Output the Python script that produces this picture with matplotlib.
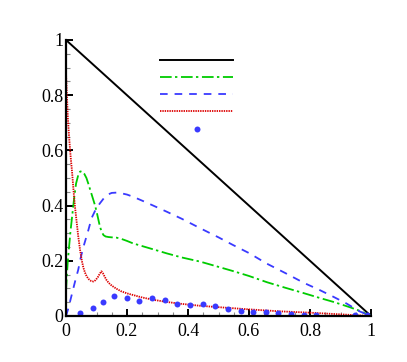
import matplotlib
matplotlib.use("Agg")
import matplotlib.pyplot as plt
from matplotlib.ticker import MultipleLocator

plt.rcParams['font.family'] = ['Liberation Serif', 'DejaVu Serif']
plt.rcParams['lines.scale_dashes'] = False

# Series data
diag_x = [0.0, 1.0]
diag_y = [1.0, 0.0]

green_x = [0.0, 0.003, 0.006, 0.01, 0.015, 0.02, 0.027, 0.033, 0.04, 0.046, 0.052, 0.06,
           0.067, 0.073, 0.08, 0.087, 0.094, 0.1, 0.106, 0.111, 0.117, 0.123, 0.13, 0.14,
           0.15, 0.165, 0.18, 0.2, 0.22, 0.26, 0.3, 0.33, 0.38, 0.44, 0.5, 0.55, 0.6,
           0.66, 0.72, 0.77, 0.83, 0.88, 0.93, 0.96, 1.0]
green_y = [0.09, 0.15, 0.2, 0.25, 0.31, 0.36, 0.43, 0.48, 0.51, 0.523, 0.525, 0.515,
           0.5, 0.48, 0.455, 0.43, 0.405, 0.38, 0.35, 0.325, 0.305, 0.293, 0.288, 0.286,
           0.285, 0.284, 0.28, 0.272, 0.263, 0.25, 0.237, 0.227, 0.212, 0.197, 0.178, 0.162, 0.145,
           0.122, 0.102, 0.086, 0.066, 0.05, 0.032, 0.02, 0.0]

blue_x = [0.0, 0.007, 0.015, 0.024, 0.032, 0.04, 0.048, 0.057, 0.065, 0.073, 0.084, 0.097,
          0.111, 0.125, 0.137, 0.15, 0.165, 0.18, 0.2, 0.22, 0.26, 0.3, 0.33, 0.38,
          0.44, 0.5, 0.548, 0.6, 0.658, 0.72, 0.78, 0.83, 0.876, 0.92, 0.964, 1.0]
blue_y = [0.0, 0.025, 0.06, 0.1, 0.135, 0.167, 0.21, 0.25, 0.28, 0.31, 0.355, 0.385,
          0.408, 0.428, 0.44, 0.446, 0.447, 0.445, 0.44, 0.432, 0.413, 0.393, 0.378, 0.352,
          0.318, 0.285, 0.257, 0.228, 0.19, 0.155, 0.12, 0.095, 0.07, 0.045, 0.016, 0.0]

red_x = [0.0, 0.003, 0.006, 0.01, 0.015, 0.02, 0.025, 0.03, 0.035, 0.04, 0.046, 0.052,
         0.057, 0.062, 0.068, 0.075, 0.082, 0.09, 0.097, 0.104, 0.11, 0.116, 0.121, 0.127,
         0.133, 0.14, 0.15, 0.165, 0.18, 0.2, 0.22, 0.25, 0.29, 0.33, 0.37, 0.44, 0.5,
         0.6, 0.7, 0.8, 0.9, 0.95, 1.0]
red_y = [0.88, 0.8, 0.72, 0.65, 0.58, 0.52, 0.45, 0.39, 0.34, 0.29, 0.24, 0.2,
         0.175, 0.158, 0.143, 0.133, 0.127, 0.125, 0.13, 0.14, 0.152, 0.162, 0.155, 0.142,
         0.13, 0.12, 0.11, 0.099, 0.09, 0.082, 0.076, 0.067, 0.058, 0.051, 0.045, 0.037, 0.032,
         0.024, 0.017, 0.012, 0.006, 0.003, 0.0]

dots_x = [0.046, 0.087, 0.122, 0.157, 0.199, 0.24, 0.282, 0.323, 0.365, 0.407, 0.448, 0.49,
          0.53, 0.573, 0.614, 0.656, 0.696, 0.738, 0.78, 0.82, 0.948, 0.988]
dots_y = [0.01, 0.03, 0.05, 0.071, 0.066, 0.055, 0.066, 0.059, 0.045, 0.04, 0.042, 0.035,
          0.024, 0.019, 0.016, 0.013, 0.01, 0.006, 0.004, 0.003, 0.004, 0.002]

tick_vals = [0, 0.2, 0.4, 0.6, 0.8, 1.0]
tick_labels = ['0', '0.2', '0.4', '0.6', '0.8', '1']

GREEN = '#00cc00'
BLUE = '#3a3aff'
RED = '#dd0000'

fig = plt.figure(figsize=(4.07, 3.62), dpi=100)
ax = fig.add_axes([66/407, 1 - 316/362, 305/407, 276/362])

l1, = ax.plot(diag_x, diag_y, color='black', lw=1.4)
l2, = ax.plot(green_x, green_y, color=GREEN, lw=1.3, linestyle=(0, (8.4, 2.4, 1.7, 2.6)))
l3, = ax.plot(blue_x, blue_y, color=BLUE, lw=1.3, linestyle=(0, (5.5, 5.0)))
l4, = ax.plot(red_x, red_y, color=RED, lw=1.3, linestyle=(0, (1.0, 0.7)))
l5, = ax.plot(dots_x, dots_y, linestyle='none', marker='o', markersize=4.3,
              color=BLUE, markeredgewidth=0)

ax.set_xlim(0, 1)
ax.set_ylim(0, 1)
ax.set_xticks(tick_vals)
ax.set_xticklabels(tick_labels)
ax.set_yticks(tick_vals)
ax.set_yticklabels(tick_labels)
ax.xaxis.set_minor_locator(MultipleLocator(0.05))
ax.yaxis.set_minor_locator(MultipleLocator(0.05))
ax.tick_params(which='major', direction='in', length=5, width=1.4, labelsize=13, colors='black')
ax.tick_params(which='minor', direction='in', length=3, width=0.8, color='#888888')
ax.tick_params(axis='x', which='major', pad=5)
ax.tick_params(axis='y', which='major', pad=2)
ax.tick_params(top=False, right=False, which='both')

for s in ['top', 'right']:
    ax.spines[s].set_visible(False)
for s in ['left', 'bottom']:
    ax.spines[s].set_linewidth(1.6)

ax.legend([l1, l2, l3, l4, l5], [''] * 5, frameon=False, loc='upper left',
          bbox_to_anchor=((160 - 66) / 305 - 0.01, 1 - (52 - 40) / 276),
          handlelength=5.3, fontsize=10, labelspacing=0.3, borderpad=0.2,
          handletextpad=0.0, borderaxespad=0)

fig.savefig('out.png', dpi=100)
